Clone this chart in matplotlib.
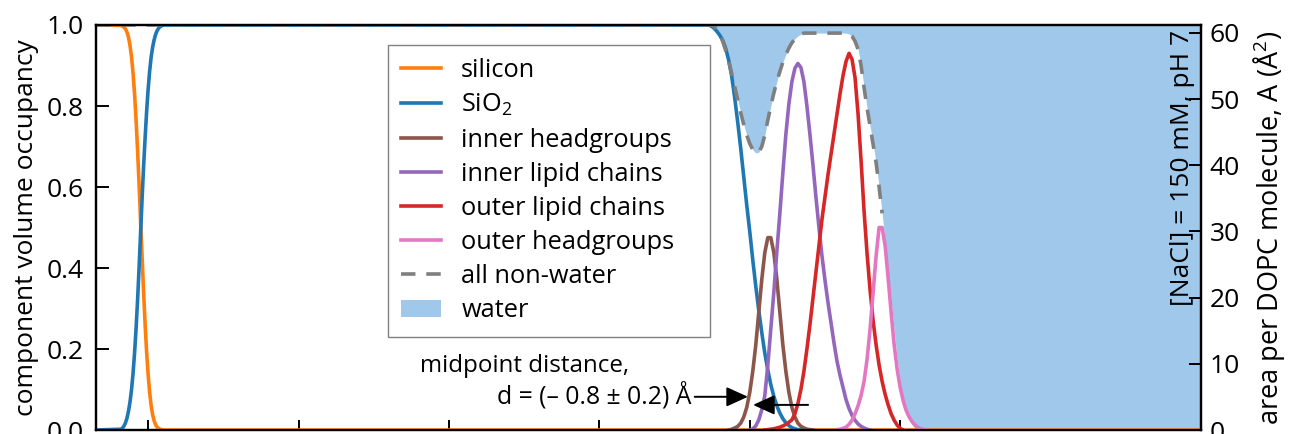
import numpy as np
import matplotlib
matplotlib.use("Agg")
import matplotlib.pyplot as plt
from matplotlib.patches import Patch
from matplotlib.lines import Line2D

plt.rcParams['font.family'] = ['Open Sans', 'DejaVu Sans']
plt.rcParams['mathtext.fontset'] = 'custom'
plt.rcParams['mathtext.rm'] = 'Open Sans'
plt.rcParams['mathtext.it'] = 'Open Sans'
plt.rcParams['mathtext.bf'] = 'Open Sans'

# colours
c_si = '#ff7f0e'
c_sio2 = '#1f77b4'
c_ihg = '#8c564b'
c_ich = '#9467bd'
c_och = '#d62728'
c_ohg = '#e377c2'
c_nw = '#7f7f7f'
c_water = '#9fc8ea'

xmin, xmax = -17.3, 350

# Si / SiO2 interface, distance in A (0.5 A steps)
z_edge = np.arange(-9.0, 5.5, 0.5)
silicon_edge = [0.999, 0.997, 0.9945, 0.99, 0.982, 0.969, 0.949, 0.921, 0.881, 0.83,
                0.766, 0.691, 0.607, 0.518, 0.428, 0.341, 0.262, 0.194, 0.138, 0.094,
                0.061, 0.038, 0.023, 0.013, 0.007, 0.004, 0.002, 0.001, 0.0]
sio2_edge = [0.002, 0.005, 0.01, 0.018, 0.03, 0.047, 0.07, 0.1, 0.14, 0.19,
             0.25, 0.32, 0.4, 0.485, 0.57, 0.65, 0.72, 0.785, 0.84, 0.885,
             0.92, 0.945, 0.963, 0.977, 0.986, 0.992, 0.996, 0.998, 1.0]

# SiO2 / bilayer side (1 A steps)
z_sio2_drop = np.arange(186, 218)
sio2_drop = [1.0, 0.998, 0.993, 0.985, 0.975, 0.962, 0.942, 0.913, 0.873, 0.82,
             0.76, 0.695, 0.625, 0.555, 0.49, 0.42, 0.355, 0.295, 0.24, 0.19,
             0.148, 0.112, 0.083, 0.06, 0.042, 0.028, 0.018, 0.011, 0.006, 0.003,
             0.001, 0.0]

z_ihg = np.arange(193, 222)
inner_head = [0.0, 0.002, 0.005, 0.009, 0.017, 0.032, 0.056, 0.093, 0.145, 0.21,
              0.291, 0.372, 0.438, 0.475, 0.475, 0.438, 0.372, 0.291, 0.21, 0.145,
              0.093, 0.056, 0.032, 0.017, 0.009, 0.005, 0.002, 0.001, 0.0]

z_ich = np.arange(200, 241)
inner_chain = [0.0, 0.003, 0.01, 0.025, 0.05, 0.085, 0.16, 0.25, 0.34, 0.44,
               0.535, 0.635, 0.73, 0.805, 0.86, 0.893, 0.905, 0.895, 0.86, 0.80,
               0.73, 0.655, 0.575, 0.50, 0.43, 0.37, 0.315, 0.265, 0.215, 0.17,
               0.135, 0.105, 0.075, 0.053, 0.036, 0.024, 0.015, 0.009, 0.005, 0.002,
               0.0]

z_och = np.arange(205, 252)
outer_chain = [0.0, 0.001, 0.002, 0.003, 0.005, 0.007, 0.01, 0.014, 0.019, 0.025,
               0.04, 0.065, 0.1, 0.145, 0.2, 0.26, 0.325, 0.39, 0.455, 0.52,
               0.575, 0.63, 0.68, 0.73, 0.78, 0.83, 0.875, 0.91, 0.93, 0.915,
               0.87, 0.78, 0.665, 0.54, 0.435, 0.345, 0.27, 0.21, 0.16, 0.12,
               0.088, 0.062, 0.04, 0.024, 0.012, 0.004, 0.0]

z_ohg = np.arange(229, 260)
outer_head = [0.001, 0.002, 0.004, 0.007, 0.014, 0.024, 0.04, 0.06, 0.085, 0.12,
              0.175, 0.25, 0.34, 0.43, 0.5, 0.5, 0.455, 0.375, 0.29, 0.21,
              0.15, 0.105, 0.072, 0.048, 0.032, 0.02, 0.012, 0.006, 0.003, 0.001,
              0.0]

z_nw = np.arange(187, 257)
nonwater = [1.0, 0.997, 0.99, 0.978, 0.96, 0.937, 0.91, 0.88, 0.848, 0.815,
            0.783, 0.754, 0.728, 0.707, 0.692, 0.684, 0.686, 0.7, 0.728, 0.765,
            0.8, 0.832, 0.86, 0.885, 0.908, 0.927, 0.943, 0.956, 0.966, 0.973,
            0.977] + [0.98] * 15 + \
           [0.978, 0.972, 0.96, 0.94, 0.9, 0.845, 0.795, 0.75, 0.705, 0.66,
            0.6, 0.535, 0.465, 0.395, 0.32, 0.245, 0.175, 0.12, 0.08, 0.055,
            0.03, 0.012, 0.003, 0.0]

fig = plt.figure(figsize=(12.91, 4.34), dpi=100)
ax = fig.add_axes([0.0744, 0.0092, 0.8559, 0.9332])

# water = everything above the non-water profile
nw_z = np.concatenate([[xmin], z_nw, [xmax]])
nw = np.concatenate([[1.0], nonwater, [0.0]])
ax.fill_between(nw_z, nw, 1.0, color=c_water, lw=0, zorder=1)

lw = 2.6
si_z = np.concatenate([[xmin], z_edge, [xmax]])
si = np.concatenate([[1.0], silicon_edge, [0.0]])
ax.plot(si_z, si, color=c_si, lw=lw, zorder=3)
sio2_z = np.concatenate([[xmin], z_edge, z_sio2_drop])
sio2 = np.concatenate([[0.0], sio2_edge, sio2_drop])
ax.plot(sio2_z, sio2, color=c_sio2, lw=lw, zorder=3)
ax.plot(z_ihg, inner_head, color=c_ihg, lw=lw, zorder=3)
ax.plot(z_ich, inner_chain, color=c_ich, lw=lw, zorder=3)
ax.plot(z_och, outer_chain, color=c_och, lw=lw, zorder=3)
ax.plot(z_ohg, outer_head, color=c_ohg, lw=lw, zorder=3)
vis = nw_z <= 244.5
ax.plot(nw_z[vis], nw[vis], color=c_nw, lw=lw, ls=(0, (4, 3)), zorder=3)

ax.set_xlim(xmin, xmax)
ax.set_ylim(0, 1)
ax.set_xticks([0, 50, 100, 150, 200, 250])
ax.set_yticks([0, 0.2, 0.4, 0.6, 0.8, 1.0])
ax.tick_params(axis='x', direction='in', length=7, width=1.4, labelbottom=False)
ax.tick_params(axis='y', direction='in', length=9, width=1.4, pad=9, labelsize=19)
ax.set_ylabel('component volume occupancy', fontsize=19, labelpad=5)
for s in ax.spines.values():
    s.set_linewidth(1.6)

ax2 = ax.twinx()
ax2.set_ylim(0, 61.2)
ax2.set_yticks([0, 10, 20, 30, 40, 50, 60])
ax2.tick_params(axis='y', direction='in', length=9, width=1.4, pad=6, labelsize=19)
ax2.set_ylabel('area per DOPC molecule, A (Å$^2$)', fontsize=19.5, labelpad=8)
for s in ax2.spines.values():
    s.set_linewidth(1.6)

ax2.text(0.983, 0.988, '[NaCl] = 150 mM, pH 7', transform=ax2.transAxes,
         rotation=90, ha='center', va='top', fontsize=19)

# midpoint annotation
ax.text(90.4, 0.144, 'midpoint distance,', fontsize=17.4, ha='left', va='baseline')
ax.text(180.7, 0.066, 'd = (– 0.8 ± 0.2) Å', fontsize=17.8, ha='right', va='baseline')
arr = dict(arrowstyle='-|>,head_length=0.55,head_width=0.25', color='k', lw=1.4,
           mutation_scale=24, shrinkA=0, shrinkB=0)
ax.annotate('', xy=(199.4, 0.082), xytext=(181.7, 0.082), arrowprops=arr, zorder=5)
ax.annotate('', xy=(201.1, 0.062), xytext=(219.4, 0.062), arrowprops=arr, zorder=5)

handles = [
    Line2D([], [], color=c_si, lw=lw),
    Line2D([], [], color=c_sio2, lw=lw),
    Line2D([], [], color=c_ihg, lw=lw),
    Line2D([], [], color=c_ich, lw=lw),
    Line2D([], [], color=c_och, lw=lw),
    Line2D([], [], color=c_ohg, lw=lw),
    Line2D([], [], color=c_nw, lw=lw, ls=(0, (4, 3))),
    Patch(facecolor=c_water, edgecolor='none'),
]
labels = ['silicon', 'SiO$_2$', 'inner headgroups', 'inner lipid chains',
          'outer lipid chains', 'outer headgroups', 'all non-water', 'water']
leg = ax2.legend(handles, labels, loc='upper left',
                 bbox_to_anchor=(0.264, 0.0, 0.2914, 0.951), mode='expand',
                 borderaxespad=0, fontsize=18.3, frameon=True, fancybox=False,
                 edgecolor='#808080', framealpha=1, handlelength=1.57,
                 handletextpad=0.8, labelspacing=0.36, borderpad=0.52)
leg.get_frame().set_linewidth(1.0)

fig.savefig('out.png', dpi=100)
